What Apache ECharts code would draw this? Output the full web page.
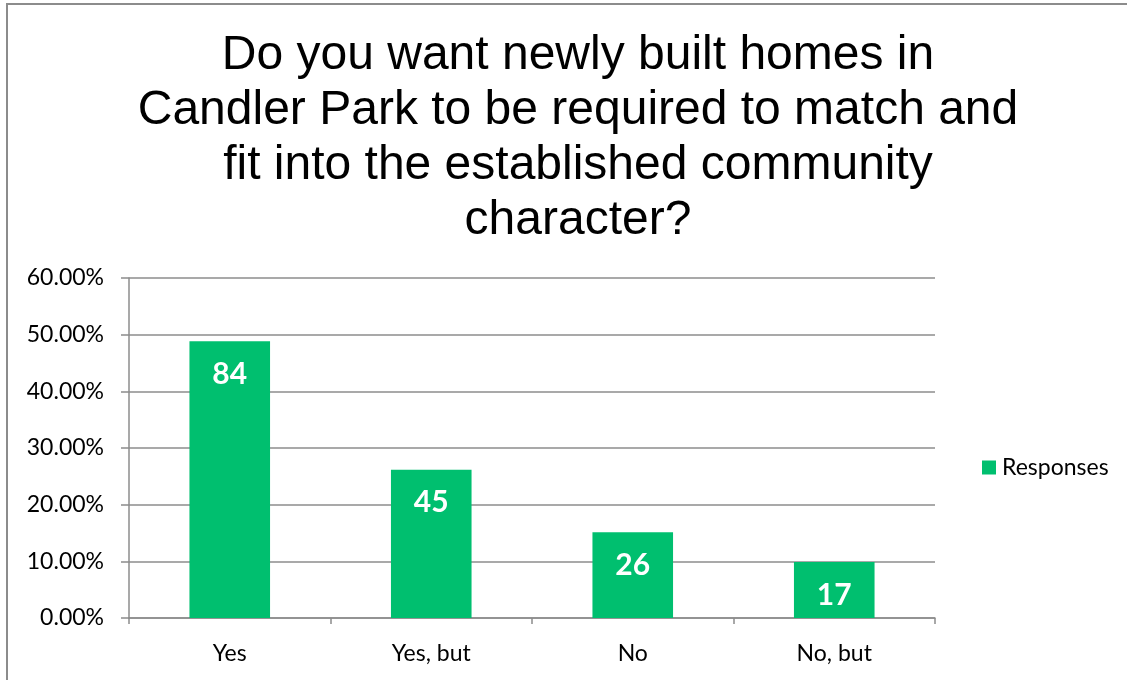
<!DOCTYPE html>
<html>
<head>
<meta charset="utf-8">
<style>
  html, body { margin: 0; padding: 0; background: #fff; }
  #frame { position: absolute; left: 6px; top: 3px; width: 1140px; height: 700px; border-left: 2px solid #8c8c8c; border-top: 2px solid #8c8c8c; box-sizing: border-box; }
  #chart { position: absolute; left: 0; top: 0; width: 1127px; height: 680px; }
</style>
<script src="https://cdn.jsdelivr.net/npm/echarts@6/dist/echarts.min.js"></script>
</head>
<body>
<div id="frame"></div>
<div id="chart"></div>
<script>
// Survey answers and how many people gave each
const categories = ['Yes', 'Yes, but', 'No', 'No, but'];
const counts = [84, 45, 26, 17];
const seriesName = 'Responses';
const titleText = 'Do you want newly built homes in\nCandler Park to be required to match and\nfit into the established community\ncharacter?';

// Bars show each answer's share of all responses; labels show the count
const total = counts.reduce((a, b) => a + b, 0);
const shares = counts.map(c => ({ value: c / total * 100, count: c }));

const chart = echarts.init(document.getElementById('chart'), null, { renderer: 'canvas' });
chart.setOption({
  animation: false,
  title: {
    text: titleText,
    left: 573,
    top: 23,
    textAlign: 'center',
    textStyle: { fontFamily: 'Liberation Sans', fontSize: 48, fontWeight: 'normal', color: '#000', lineHeight: 55 }
  },
  legend: {
    data: [seriesName],
    left: 977,
    top: 451,
    itemWidth: 14,
    itemHeight: 14,
    itemGap: 8,
    icon: 'rect',
    textStyle: { fontFamily: 'Lato', fontSize: 23, color: '#000', padding: [0, 0, 0, 1] }
  },
  grid: { left: 129, right: 192, top: 278, bottom: 62, containLabel: false },
  xAxis: {
    type: 'category',
    data: categories,
    axisLine: { lineStyle: { color: '#8c8c8c', width: 1.5 } },
    axisTick: { show: true, length: 6, lineStyle: { color: '#8c8c8c', width: 1.5 } },
    axisLabel: { fontFamily: 'Lato', fontSize: 23, color: '#000', margin: 24 }
  },
  yAxis: {
    type: 'value',
    min: 0,
    max: 60,
    interval: 10,
    axisLine: { show: true, lineStyle: { color: '#8c8c8c', width: 1.5 } },
    axisTick: { show: true, length: 8, lineStyle: { color: '#8c8c8c', width: 1.5 } },
    splitLine: { lineStyle: { color: '#8c8c8c', width: 1.5 } },
    axisLabel: {
      fontFamily: 'Lato', fontSize: 23, color: '#000', margin: 25,
      formatter: v => v.toFixed(2) + '%'
    }
  },
  series: [{
    name: seriesName,
    type: 'bar',
    data: shares,
    barWidth: '40%',
    itemStyle: { color: '#00BF6F' },
    label: {
      show: true,
      position: 'insideTop',
      distance: 18,
      formatter: p => String(p.data.count),
      fontFamily: 'Lato',
      fontWeight: 'bold',
      fontSize: 30,
      color: '#fff'
    }
  }]
});
</script>
</body>
</html>
